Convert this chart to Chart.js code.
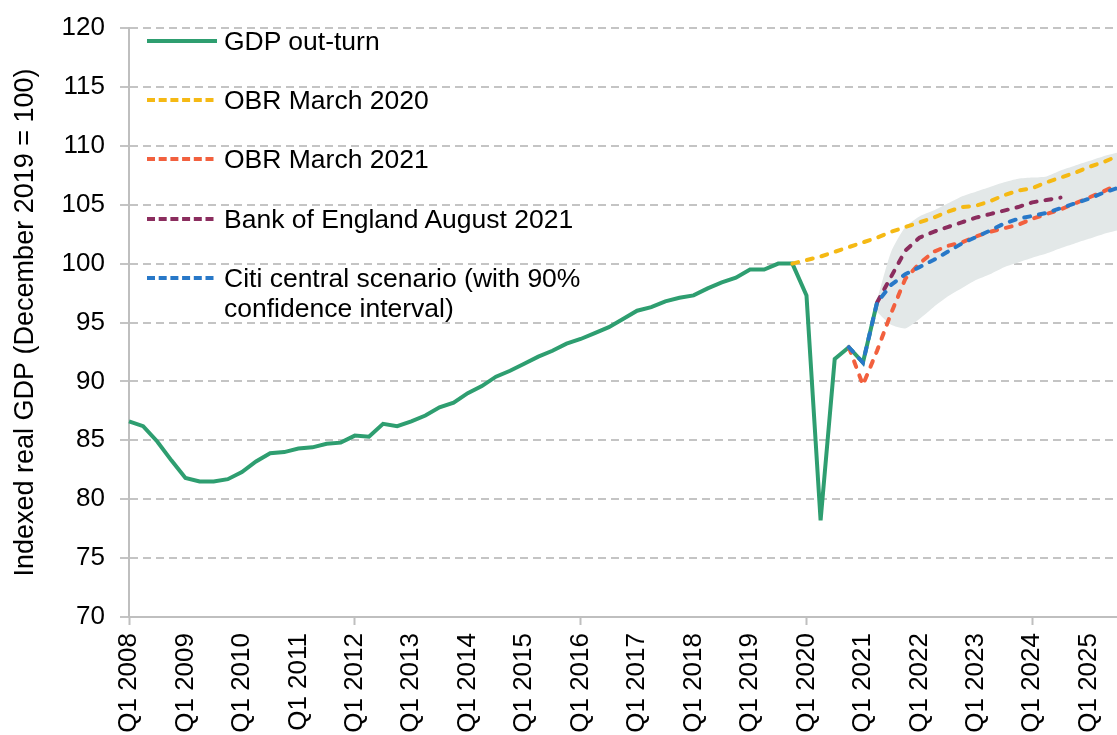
<!DOCTYPE html>
<html>
<head>
<meta charset="utf-8">
<script src="https://cdn.jsdelivr.net/npm/chart.js@4.4.1/dist/chart.umd.min.js"></script>
<style>
  html, body { margin:0; padding:0; background:#fff; }
  #wrap { position:relative; width:1117px; height:735px; font-family:"Liberation Sans", Arial, sans-serif; }
  #legend { position:absolute; left:147px; top:0; }
  .row { position:absolute; left:0; display:flex; align-items:flex-start; white-space:nowrap; font-size:26.5px; line-height:30px; color:#000; }
  .row svg { flex:none; margin-top:13px; margin-right:7px; }
</style>
</head>
<body>
<div id="wrap">
  <canvas id="gdp_chart" width="1117" height="735"></canvas>
  <div id="legend"></div>
</div>
<script>
// quarters Q1 2008 .. Q3 2025
const quarters = [];
for (let y = 2008; y <= 2025; y++) {
  for (let q = 1; q <= 4; q++) {
    if (y === 2025 && q > 3) break;
    quarters.push('Q' + q + ' ' + y);
  }
}

// GDP out-turn, from Q1 2008
const gdpOutturn = [86.6, 86.2, 84.9, 83.3, 81.8, 81.5, 81.5, 81.7, 82.3, 83.2,
  83.9, 84.0, 84.3, 84.4, 84.7, 84.8, 85.4, 85.3, 86.4, 86.2,
  86.6, 87.1, 87.8, 88.2, 89.0, 89.6, 90.4, 90.9, 91.5, 92.1,
  92.6, 93.2, 93.6, 94.1, 94.6, 95.3, 96.0, 96.3, 96.8, 97.1,
  97.3, 97.9, 98.4, 98.8, 99.5, 99.5, 100.0, 100.0, 97.3, 78.2,
  91.9, 92.9, 91.6, 96.7];

// forecasts: first value sits at quarter index *Start
const obr2020Start = 47; // Q4 2019
const obrMarch2020 = [100.0, 100.3, 100.6, 101.0, 101.4, 101.8, 102.2, 102.7, 103.1, 103.5,
  103.9, 104.4, 104.8, 104.9, 105.3, 105.8, 106.2, 106.4, 106.9, 107.3,
  107.7, 108.2, 108.6, 109.1];

const obr2021Start = 51; // Q4 2020
const obrMarch2021 = [92.9, 89.7, 92.6, 95.8, 98.7, 100.0, 101.0, 101.5, 101.8, 102.3,
  102.7, 103.0, 103.3, 103.8, 104.2, 104.6, 105.1, 105.6, 106.1, 106.7];

const boeStart = 53; // Q2 2021
const boeAug2021 = [96.7, 98.9, 101.1, 102.2, 102.7, 103.1, 103.5, 103.9, 104.2, 104.5,
  104.8, 105.2, 105.4, 105.6];

const citiStart = 51; // Q4 2020
const citiCentral = [92.9, 91.6, 96.7, 98.2, 99.1, 99.7, 100.3, 101.0, 101.7, 102.25,
  102.8, 103.4, 103.8, 104.05, 104.3, 104.7, 105.1, 105.5, 106.0, 106.4];

const bandStart = 53; // Q2 2021
const citiUpper = [96.9, 101.0, 103.1, 104.0, 104.5, 105.1, 105.7, 106.1, 106.5, 106.9,
  107.2, 107.3, 107.4, 107.9, 108.3, 108.7, 109.1, 109.4];
const citiLower = [95.9, 94.8, 94.5, 95.3, 96.3, 97.2, 97.9, 98.6, 99.1, 99.7,
  100.1, 100.5, 100.85, 101.3, 101.7, 102.1, 102.5, 102.8];

const pad = (start, values) => Array(start).fill(null).concat(values);

const cGreen = '#2e9e70';
const cYellow = '#f5b914';
const cRed = '#f2603e';
const cPurple = '#8b2d5e';
const cBlue = '#2878c8';
const cBand = '#e3e8e8';

const dashed = (label, data, color, order) => ({
  label: label,
  data: data,
  borderColor: color,
  borderWidth: 4,
  borderDash: [6, 9],
  borderCapStyle: 'round',
  pointRadius: 0,
  fill: false,
  order: order
});

const gData = {
  labels: quarters,
  datasets: [
    {
      label: 'GDP out-turn',
      data: gdpOutturn,
      borderColor: cGreen,
      borderWidth: 4,
      pointRadius: 0,
      fill: false,
      order: 5
    },
    dashed('OBR March 2020', pad(obr2020Start, obrMarch2020), cYellow, 4),
    dashed('OBR March 2021', pad(obr2021Start, obrMarch2021), cRed, 2),
    dashed('Bank of England August 2021', pad(boeStart, boeAug2021), cPurple, 3),
    dashed('Citi central scenario (with 90% confidence interval)', pad(citiStart, citiCentral), cBlue, 1),
    {
      label: 'upper',
      data: pad(bandStart, citiUpper),
      borderWidth: 0,
      borderColor: 'rgba(0,0,0,0)',
      backgroundColor: cBand,
      pointRadius: 0,
      tension: 0.2,
      fill: '+1',
      order: 6
    },
    {
      label: 'lower',
      data: pad(bandStart, citiLower),
      borderWidth: 0,
      borderColor: 'rgba(0,0,0,0)',
      pointRadius: 0,
      tension: 0.2,
      fill: false,
      order: 7
    }
  ]
};

Chart.defaults.font.family = '"Liberation Sans", Arial, sans-serif';
Chart.defaults.font.size = 26;
Chart.defaults.color = '#000';

const gdp_chart = new Chart(document.getElementById('gdp_chart').getContext('2d'), {
  type: 'line',
  data: gData,
  options: {
    responsive: false,
    animation: false,
    events: [],
    layout: { padding: { top: 28, right: 0, bottom: 0, left: 0 } },
    plugins: { legend: { display: false }, tooltip: { enabled: false } },
    scales: {
      x: {
        offset: false,
        border: { display: true, color: '#bfbfbf', width: 2 },
        grid: {
          display: true,
          drawOnChartArea: false,
          drawTicks: true,
          tickLength: 8,
          tickWidth: 2,
          tickColor: (ctx) => ctx.index % 4 === 0 ? '#bfbfbf' : 'rgba(0,0,0,0)'
        },
        ticks: {
          autoSkip: false,
          maxRotation: 90,
          minRotation: 90,
          padding: 8,
          callback: (val, idx) => idx % 4 === 0 ? quarters[idx] : null
        },
        afterFit: (scale) => {
          scale.height = 118;
          scale.paddingLeft = 0;
          scale.paddingRight = 0;
        }
      },
      y: {
        min: 70,
        max: 120,
        border: { display: true, color: '#bfbfbf', width: 2, dash: [8, 5] },
        grid: {
          color: '#c4c4c4',
          lineWidth: 2,
          tickLength: 9,
          tickBorderDash: [8, 5]
        },
        ticks: { stepSize: 5, padding: 15 },
        title: {
          display: true,
          text: 'Indexed real GDP (December 2019 = 100)',
          font: { size: 27 },
          padding: { top: 9, bottom: 0 }
        },
        afterFit: (scale) => {
          scale.width = 129;
          scale.paddingTop = 0;
          scale.paddingBottom = 0;
        }
      }
    }
  }
});

// legend, inside the plot at top left
const legendRows = [
  { text: 'GDP out-turn', color: cGreen, dash: '', top: 25.5 },
  { text: 'OBR March 2020', color: cYellow, dash: '8 3.7', top: 84.5 },
  { text: 'OBR March 2021', color: cRed, dash: '8 3.7', top: 144 },
  { text: 'Bank of England August 2021', color: cPurple, dash: '8 3.7', top: 203.5 },
  { text: 'Citi central scenario (with 90%<br>confidence interval)', color: cBlue, dash: '8 3.7', top: 263 }
];
const legendEl = document.getElementById('legend');
legendRows.forEach((r) => {
  const row = document.createElement('div');
  row.className = 'row';
  row.style.top = r.top + 'px';
  row.innerHTML = '<svg width="70" height="4"><line x1="0" y1="2" x2="70" y2="2" stroke="' + r.color +
    '" stroke-width="4"' + (r.dash ? ' stroke-dasharray="' + r.dash + '"' : '') + '/></svg><span>' + r.text + '</span>';
  legendEl.appendChild(row);
});
</script>
</body>
</html>
